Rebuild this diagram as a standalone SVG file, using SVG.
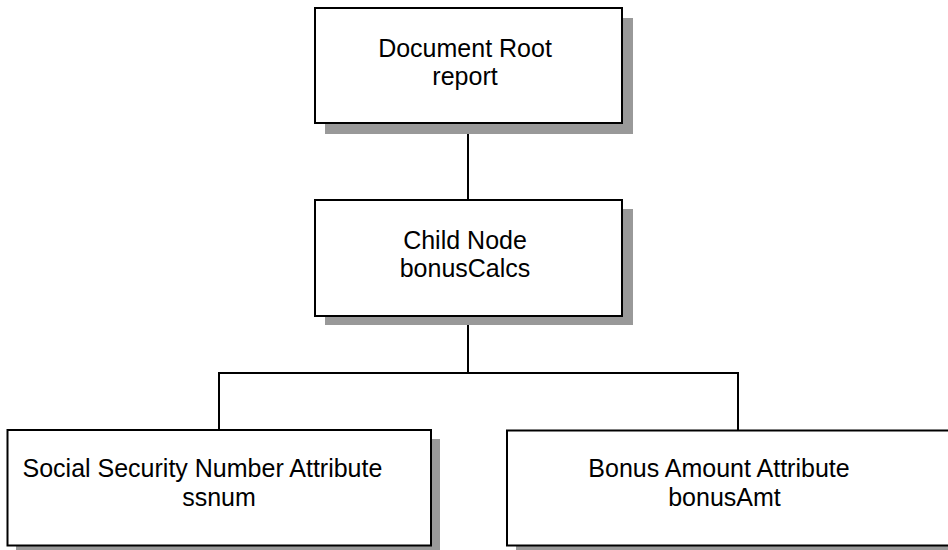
<svg xmlns="http://www.w3.org/2000/svg" width="948" height="550" viewBox="0 0 948 550">
<style>
.box{fill:#fff;stroke:#000;stroke-width:2}
.shadow{fill:#999}
.lbl{font-family:"Liberation Sans",Arial,sans-serif;font-size:25px;fill:#000}
.mid{text-anchor:middle}
.conn{fill:none;stroke:#000;stroke-width:2}
</style>
<rect width="948" height="550" fill="#fff"/>
<g id="connectors">
<path class="conn" d="M468 123V200"/>
<path class="conn" d="M468 316V373M219 430V373H738V430"/>
</g>
<g id="root">
<rect class="shadow" x="325" y="18" width="308" height="116"/>
<rect class="box" x="315" y="8" width="307" height="115"/>
<text class="lbl mid" x="465" y="57">Document Root</text>
<text class="lbl mid" x="465" y="85">report</text>
</g>
<g id="child">
<rect class="shadow" x="325" y="209" width="308" height="116"/>
<rect class="box" x="315" y="200" width="307" height="116"/>
<text class="lbl mid" x="465" y="249">Child Node</text>
<text class="lbl mid" x="465" y="277">bonusCalcs</text>
</g>
<g id="ssnum">
<rect class="shadow" x="16" y="439" width="424" height="116"/>
<rect class="box" x="7.5" y="430" width="423.5" height="115.5"/>
<text class="lbl" x="22.5" y="477">Social Security Number Attribute</text>
<text class="lbl mid" x="219" y="506">ssnum</text>
</g>
<g id="bonusAmt">
<rect class="shadow" x="516" y="439" width="460" height="116"/>
<rect class="box" x="507" y="430.5" width="460" height="115"/>
<text class="lbl mid" x="719" y="477">Bonus Amount Attribute</text>
<text class="lbl mid" x="724.5" y="506">bonusAmt</text>
</g>
</svg>
